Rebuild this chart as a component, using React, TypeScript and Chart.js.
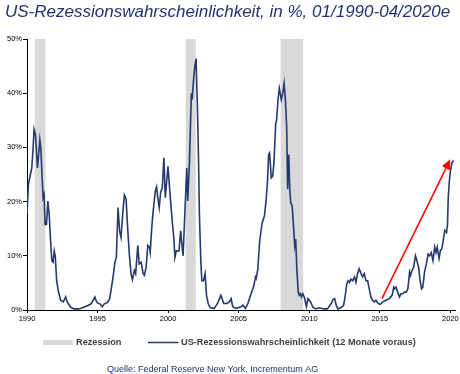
import React, { useEffect, useRef } from "react";
import { Chart, registerables } from "chart.js";

Chart.register(...registerables);

const TITLE = "US-Rezessionswahrscheinlichkeit, in %, 01/1990-04/2020e";
const SOURCE = "Quelle: Federal Reserve New York, Incrementum AG";
const LEGEND_RECESSION = "Rezession";
const LEGEND_SERIES = "US-Rezessionswahrscheinlichkeit (12 Monate voraus)";

const X_TICKS = [1990, 1995, 2000, 2005, 2010, 2015, 2020];
const Y_TICKS = [0, 10, 20, 30, 40, 50];

const RECESSION_START = [1990.55, 2001.25, 2007.97];
const RECESSION_END = [1991.31, 2001.96, 2009.57];

const ARROW_FROM = [2015.15, 2.1];
const ARROW_TO = [2020.0, 27.8];

const YEARS = [
  1990.0, 1990.1, 1990.24, 1990.34, 1990.43, 1990.5, 1990.6, 1990.74, 1990.91, 1990.98,
  1991.07, 1991.14, 1991.21, 1991.28, 1991.38, 1991.48, 1991.57, 1991.67, 1991.76, 1991.85,
  1991.93, 1992.0, 1992.1, 1992.21, 1992.38, 1992.57, 1992.74, 1992.85, 1993.1, 1993.33,
  1993.69, 1993.92, 1994.28, 1994.52, 1994.69, 1994.81, 1994.88, 1994.99, 1995.19, 1995.33,
  1995.47, 1995.71, 1995.85, 1995.99, 1996.13, 1996.23, 1996.33, 1996.45, 1996.56, 1996.66,
  1996.8, 1996.9, 1997.02, 1997.13, 1997.25, 1997.37, 1997.47, 1997.61, 1997.7, 1997.85,
  1997.95, 1998.09, 1998.23, 1998.32, 1998.44, 1998.56, 1998.68, 1998.73, 1998.84, 1998.94,
  1999.09, 1999.18, 1999.27, 1999.37, 1999.47, 1999.59, 1999.7, 1999.8, 1999.99, 2000.18,
  2000.3, 2000.41, 2000.48, 2000.58, 2000.77, 2000.89, 2000.96, 2001.06, 2001.32, 2001.39,
  2001.51, 2001.6, 2001.65, 2001.7, 2001.8, 2001.89, 2001.98, 2002.08, 2002.15, 2002.22,
  2002.32, 2002.39, 2002.51, 2002.62, 2002.72, 2002.84, 2002.98, 2003.27, 2003.5, 2003.74,
  2003.94, 2004.17, 2004.34, 2004.46, 2004.58, 2004.81, 2005.17, 2005.29, 2005.48, 2005.65,
  2005.88, 2006.08, 2006.19, 2006.24, 2006.36, 2006.48, 2006.6, 2006.67, 2006.83, 2006.95,
  2007.05, 2007.12, 2007.19, 2007.31, 2007.41, 2007.5, 2007.62, 2007.69, 2007.79, 2007.88,
  2008.02, 2008.14, 2008.22, 2008.31, 2008.4, 2008.47, 2008.55, 2008.62, 2008.69, 2008.79,
  2008.9, 2008.97, 2009.04, 2009.12, 2009.22, 2009.29, 2009.38, 2009.45, 2009.55, 2009.67,
  2009.8, 2009.91, 2010.1, 2010.26, 2010.45, 2010.69, 2011.04, 2011.28, 2011.52, 2011.68,
  2011.8, 2011.92, 2012.04, 2012.23, 2012.43, 2012.54, 2012.66, 2012.76, 2012.85, 2012.95,
  2013.07, 2013.21, 2013.31, 2013.42, 2013.54, 2013.66, 2013.78, 2013.9, 2014.02, 2014.14,
  2014.25, 2014.37, 2014.49, 2014.61, 2014.73, 2014.85, 2015.02, 2015.21, 2015.44, 2015.68,
  2015.87, 2015.99, 2016.06, 2016.15, 2016.27, 2016.39, 2016.51, 2016.63, 2016.75, 2016.87,
  2016.99, 2017.11, 2017.18, 2017.28, 2017.4, 2017.53, 2017.63, 2017.75, 2017.86, 2017.96,
  2018.05, 2018.17, 2018.3, 2018.42, 2018.53, 2018.65, 2018.77, 2018.89, 2018.98, 2019.07,
  2019.2, 2019.3, 2019.4, 2019.49, 2019.61, 2019.73, 2019.8, 2019.85, 2019.93, 2020.0,
  2020.12, 2020.22,
];

const PROBABILITY = [
  17.7, 23.2, 25.0, 26.2, 29.9, 33.3, 32.3, 26.2, 31.4, 29.9,
  24.4, 20.7, 21.3, 15.8, 15.8, 20.1, 17.7, 12.8, 9.1, 8.8,
  10.9, 10.0, 5.4, 3.6, 1.8, 1.5, 2.4, 1.5, 0.5, 0.2,
  0.2, 0.4, 0.8, 1.1, 1.8, 2.4, 1.8, 1.3, 1.1, 0.6,
  1.1, 1.4, 2.0, 4.2, 6.7, 8.8, 9.7, 18.9, 14.6, 13.4,
  18.3, 21.2, 20.5, 15.2, 10.3, 6.7, 5.6, 7.3, 6.7, 11.9,
  8.5, 8.8, 6.7, 6.4, 7.9, 11.9, 11.6, 10.7, 15.2, 18.3,
  21.9, 22.7, 20.7, 18.9, 21.7, 22.6, 28.1, 20.7, 26.5, 19.9,
  16.2, 13.1, 9.7, 10.9, 10.9, 14.6, 12.5, 10.0, 26.2, 20.1,
  27.2, 35.7, 40.0, 38.8, 42.4, 44.9, 46.4, 36.9, 28.4, 17.4,
  8.8, 5.4, 5.4, 6.7, 2.7, 1.2, 0.4, 0.3, 1.2, 2.7,
  1.2, 1.2, 1.5, 2.1, 0.6, 0.3, 0.6, 0.9, 0.3, 1.2,
  3.0, 4.5, 6.1, 5.8, 7.6, 12.5, 14.9, 16.1, 17.4, 20.4,
  24.1, 28.7, 29.0, 24.4, 24.7, 27.2, 34.2, 35.1, 38.8, 40.9,
  38.8, 40.2, 41.8, 38.8, 33.9, 22.3, 28.7, 22.3, 19.8, 19.2,
  14.9, 11.9, 13.1, 7.6, 3.3, 2.7, 3.0, 2.4, 3.0, 2.2,
  0.6, 2.1, 1.5, 0.5, 0.2, 0.4, 0.2, 0.2, 1.0, 1.9,
  2.1, 0.8, 0.2, 0.4, 0.8, 2.4, 4.8, 5.4, 5.1, 5.7,
  5.4, 6.1, 5.1, 6.7, 7.6, 6.8, 6.1, 6.7, 5.4, 5.4,
  3.9, 2.4, 1.8, 1.5, 1.8, 1.3, 1.0, 1.5, 1.8, 2.1,
  2.7, 4.2, 3.9, 4.2, 3.3, 2.4, 3.0, 3.0, 3.3, 3.3,
  3.9, 7.0, 6.4, 7.3, 7.9, 10.0, 9.1, 7.9, 5.4, 3.9,
  4.2, 7.0, 8.5, 10.3, 10.0, 10.6, 9.1, 11.6, 10.6, 11.6,
  9.5, 11.0, 11.3, 12.8, 14.7, 14.3, 15.8, 20.7, 23.8, 25.6,
  27.2, 27.6,
];

const NAVY = "#24396d";
const TITLE_COLOR = "#1f3370";
const RECESSION_COLOR = "#d9d9d9";
const TEXT_GRAY = "#404040";
const FONT = "'Liberation Sans', Arial, sans-serif";

export default function App() {
  const canvasRef = useRef<HTMLCanvasElement | null>(null);

  useEffect(() => {
    document.body.style.margin = "0";
    const canvas = canvasRef.current;
    if (!canvas) return;

    const recessionPlugin = {
      id: "recessions",
      beforeDatasetsDraw(chart: any) {
        const { ctx, chartArea, scales } = chart;
        ctx.save();
        ctx.fillStyle = RECESSION_COLOR;
        for (let i = 0; i < RECESSION_START.length; i++) {
          const x0 = scales.x.getPixelForValue(RECESSION_START[i]);
          const x1 = scales.x.getPixelForValue(RECESSION_END[i]);
          ctx.fillRect(x0, chartArea.top, x1 - x0, chartArea.bottom - chartArea.top);
        }
        ctx.restore();
      },
    };

    const arrowPlugin = {
      id: "arrow",
      afterDatasetsDraw(chart: any) {
        const { ctx, scales } = chart;
        const x0 = scales.x.getPixelForValue(ARROW_FROM[0]);
        const y0 = scales.y.getPixelForValue(ARROW_FROM[1]);
        const x1 = scales.x.getPixelForValue(ARROW_TO[0]);
        const y1 = scales.y.getPixelForValue(ARROW_TO[1]);
        const ang = Math.atan2(y1 - y0, x1 - x0);
        const headLen = 10;
        const headW = 4.5;
        const bx = x1 - headLen * Math.cos(ang);
        const by = y1 - headLen * Math.sin(ang);
        ctx.save();
        ctx.strokeStyle = "#ff0000";
        ctx.fillStyle = "#ff0000";
        ctx.lineWidth = 1.5;
        ctx.beginPath();
        ctx.moveTo(x0, y0);
        ctx.lineTo(bx, by);
        ctx.stroke();
        ctx.beginPath();
        ctx.moveTo(x1, y1);
        ctx.lineTo(bx + headW * Math.sin(ang), by - headW * Math.cos(ang));
        ctx.lineTo(bx - headW * Math.sin(ang), by + headW * Math.cos(ang));
        ctx.closePath();
        ctx.fill();
        ctx.restore();
      },
    };

    const textPlugin = {
      id: "texts",
      afterDraw(chart: any) {
        const { ctx } = chart;
        ctx.save();
        ctx.fillStyle = TITLE_COLOR;
        ctx.font = `italic 17px ${FONT}`;
        ctx.textAlign = "left";
        ctx.textBaseline = "alphabetic";
        ctx.fillText(TITLE, 5, 17);
        ctx.fillStyle = RECESSION_COLOR;
        ctx.fillRect(43, 340, 30, 5);
        ctx.fillStyle = TEXT_GRAY;
        ctx.font = `bold 9.2px ${FONT}`;
        ctx.textBaseline = "middle";
        ctx.fillText(LEGEND_RECESSION, 76, 342.5);
        ctx.strokeStyle = NAVY;
        ctx.lineWidth = 1.5;
        ctx.beginPath();
        ctx.moveTo(148, 342.5);
        ctx.lineTo(178.5, 342.5);
        ctx.stroke();
        ctx.fillText(LEGEND_SERIES, 181, 342.5);
        ctx.fillStyle = TITLE_COLOR;
        ctx.font = `9px ${FONT}`;
        ctx.fillText(SOURCE, 107, 369.5);
        ctx.restore();
      },
    };

    const chart = new Chart(canvas, {
      type: "line",
      data: {
        datasets: [
          {
            label: LEGEND_SERIES,
            data: YEARS.map((x, i) => ({ x, y: PROBABILITY[i] })),
            borderColor: NAVY,
            borderWidth: 1.6,
            pointRadius: 0,
            tension: 0,
            fill: false,
          },
        ],
      },
      options: {
        animation: false,
        responsive: false,
        devicePixelRatio: 1,
        layout: { padding: { top: 39, left: 6, right: 5, bottom: 50 } },
        plugins: {
          legend: { display: false },
          tooltip: { enabled: false },
          title: { display: false },
        },
        scales: {
          x: {
            type: "linear",
            min: 1990,
            max: 2020.33,
            afterBuildTicks: (axis: any) => {
              axis.ticks = X_TICKS.map((v) => ({ value: v }));
            },
            ticks: {
              callback: (v: any) => String(v),
              font: { family: FONT, size: 7.5 },
              color: "#000",
              padding: 1,
              maxRotation: 0,
              autoSkip: false,
            },
            grid: { display: true, drawOnChartArea: false, drawTicks: true, tickLength: 3, color: "#000" },
            border: { display: true, color: "#000", width: 1 },
          },
          y: {
            min: 0,
            max: 50,
            afterBuildTicks: (axis: any) => {
              axis.ticks = Y_TICKS.map((v) => ({ value: v }));
            },
            ticks: {
              callback: (v: any) => `${v}%`,
              font: { family: FONT, size: 7.5 },
              color: "#000",
              padding: 1,
            },
            grid: { display: true, drawOnChartArea: false, drawTicks: true, tickLength: 4, color: "#000" },
            border: { display: true, color: "#000", width: 1 },
          },
        },
      },
      plugins: [recessionPlugin, arrowPlugin, textPlugin],
    });

    return () => chart.destroy();
  }, []);

  return (
    <div style={{ width: 460, height: 374, position: "relative", background: "#fff" }}>
      <canvas ref={canvasRef} width={460} height={374} style={{ display: "block" }} />
    </div>
  );
}
